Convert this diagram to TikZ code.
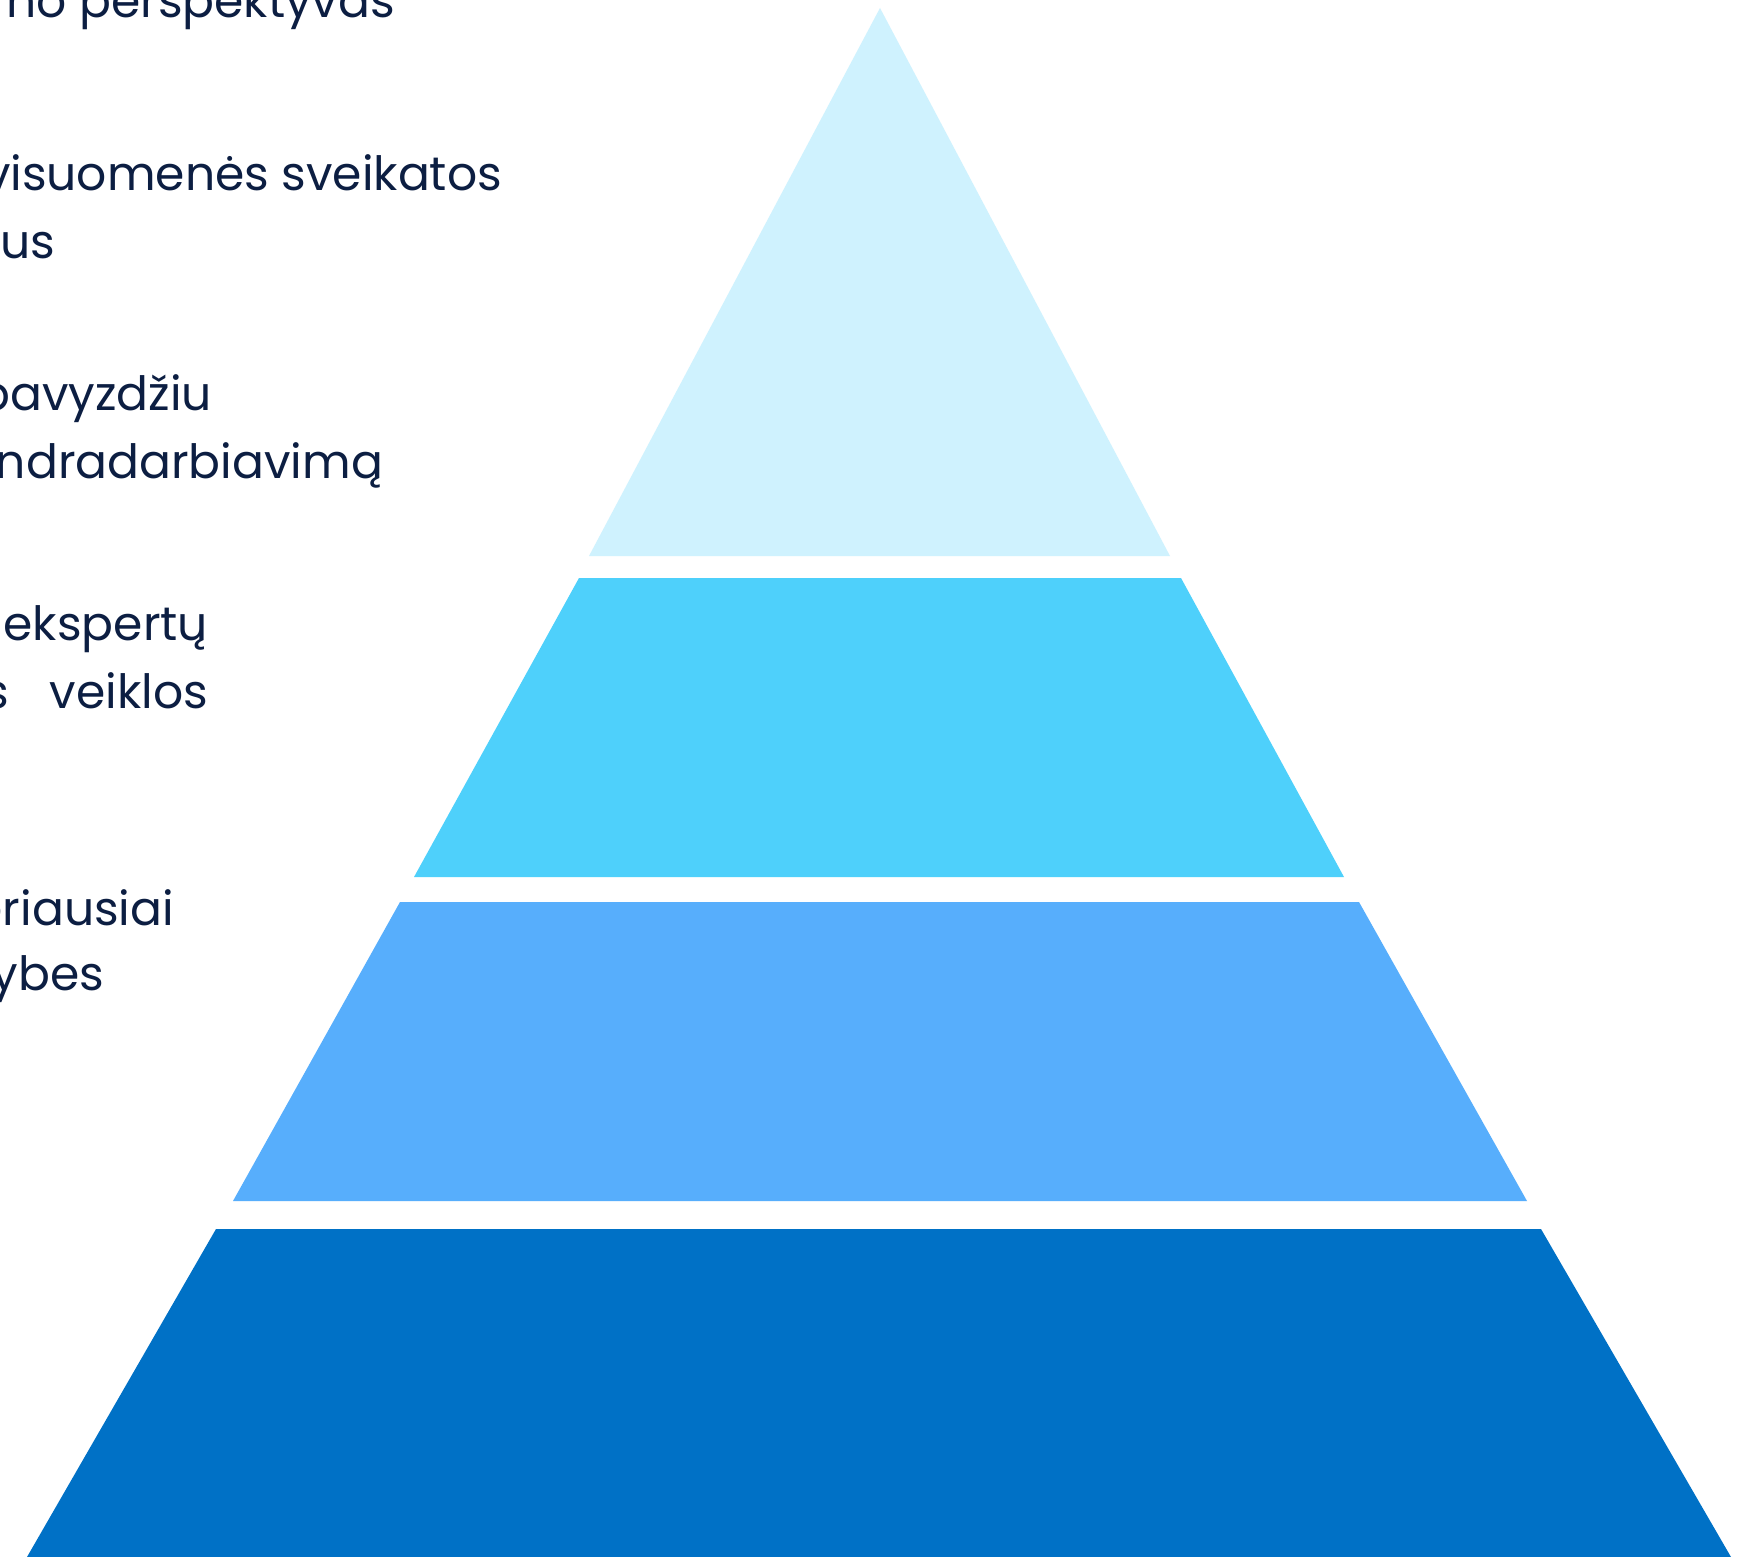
\documentclass[tikz,border=0pt]{standalone}
\usepackage{fontspec}
\setmainfont{Poppins}
\definecolor{txt}{HTML}{0C1E42}
\definecolor{lvlA}{HTML}{CFF2FE}
\definecolor{lvlB}{HTML}{4ED0FB}
\definecolor{lvlC}{HTML}{57AEFC}
\definecolor{lvlD}{HTML}{0071C6}
\tikzset{
  lbl/.style={anchor=base east, inner sep=0pt, outer sep=0pt, text=txt, font=\fontsize{23.6}{27}\selectfont},
  layer/.style={draw=none}
}
\begin{document}
\begin{tikzpicture}[x=0.5pt,y=-0.5pt]
\useasboundingbox (0,0) rectangle (1756,1557);
\clip (0,0) rectangle (1756,1557);
\fill[white] (0,0) rectangle (1756,1557);
% pyramid layers
\fill[lvlA] (880,8) -- (1170,556) -- (589,556) -- cycle;
\fill[lvlB] (579,578) -- (1181,578) -- (1344,877) -- (414,877) -- cycle;
\fill[lvlC] (400,902) -- (1359,902) -- (1527,1201) -- (233,1201) -- cycle;
\fill[lvlD] (216,1229) -- (1541,1229) -- (1731,1557) -- (27,1557) -- cycle;
% texts
\node[lbl] (t1) at (395,18) {no perspektyvas};
\node[lbl] (t2) at (502,191) {visuomenės sveikatos};
\node[lbl] (t3) at (55,259) {us};
\node[lbl] (t4) at (212,410) {pavyzdžiu};
\node[lbl] (t5) at (383,478) {endradarbiavimą};
\node[lbl] (t6) at (208,640) {ekspertų};
\node[lbl] (t7a) at (9,708) {s};
\node[lbl] (t7b) at (208,708) {veiklos};
\node[lbl] (t8) at (174,925) {eriausiai};
\node[lbl] (t9) at (104,990) {ybes};
\end{tikzpicture}
\end{document}
